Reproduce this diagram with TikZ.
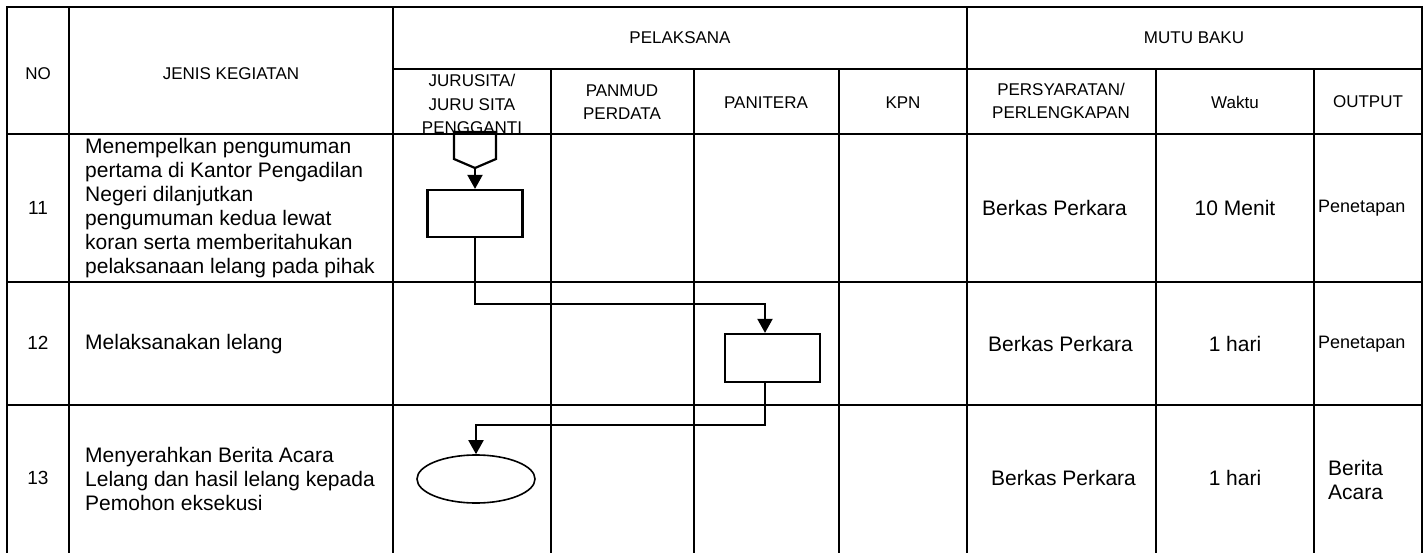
\documentclass[tikz,border=0pt]{standalone}
\usepackage{fontspec}
\setmainfont{Liberation Sans}
\usetikzlibrary{arrows.meta,shapes.geometric}
\begin{document}
\begin{tikzpicture}[x=1pt,y=-1pt,
  grid/.style={line width=1.1pt},
  hdr/.style={font=\fontsize{17}{23.5}\selectfont, align=center, inner sep=0pt},
  body/.style={font=\fontsize{21}{24}\selectfont, align=left, inner sep=0pt},
  num/.style={font=\fontsize{19}{24}\selectfont, inner sep=0pt},
  small/.style={font=\fontsize{18}{24}\selectfont, inner sep=0pt},
  box/.style={draw, line width=2.2pt, minimum width=95pt, minimum height=47pt, inner sep=0pt},
  term/.style={draw, ellipse, line width=1.6pt, minimum width=118pt, minimum height=48pt, inner sep=0pt},
  conn/.style={line width=2pt, -{Triangle[width=15pt,length=14pt]}}]
\useasboundingbox (0,0) rectangle (1426,553);
% grid
\draw[grid] (7,553) -- (7,7) -- (1422,7) -- (1422,553);
\draw[grid] (69,7) -- (69,553);
\draw[grid] (393,7) -- (393,553);
\draw[grid] (967,7) -- (967,553);
\draw[grid] (393,69) -- (1422,69);
\foreach \x in {551,694,839,1156,1314} \draw[grid] (\x,69) -- (\x,553);
\foreach \y in {134,282,405} \draw[grid] (7,\y) -- (1422,\y);
% headers
\node[hdr] (hno) at (38,74) {NO};
\node[hdr] (hjenis) at (231,74) {JENIS KEGIATAN};
\node[hdr] (hpel) at (680,38) {PELAKSANA};
\node[hdr] (hmutu) at (1194,38) {MUTU BAKU};
\node[hdr] (hjs) at (472,104) {JURUSITA/\\JURU SITA\\PENGGANTI};
\node[hdr] (hpan) at (622,102) {PANMUD\\PERDATA};
\node[hdr] (hpant) at (766,103) {PANITERA};
\node[hdr] (hkpn) at (903,103) {KPN};
\node[hdr] (hpers) at (1061,101) {PERSYARATAN/\\PERLENGKAPAN};
\node[hdr] (hwak) at (1235,102) {Waktu};
\node[hdr] (hout) at (1368,102) {OUTPUT};
% row 11
\node[num] (n11) at (38,208) {11};
\node[body, anchor=west] (t11) at (85,208) {Menempelkan pengumuman\\pertama di Kantor Pengadilan\\Negeri dilanjutkan\\pengumuman kedua lewat\\koran serta memberitahukan\\pelaksanaan lelang pada pihak};
\node[body, anchor=west] (b11) at (982,208) {Berkas Perkara};
\node[body] (w11) at (1235,208) {10 Menit};
\node[small, anchor=west] (o11) at (1318,208) {Penetapan};
% row 12
\node[num] (n12) at (38,343) {12};
\node[body, anchor=west] (t12) at (85,344) {Melaksanakan lelang};
\node[body, anchor=west] (b12) at (988,344) {Berkas Perkara};
\node[body] (w12) at (1235,344) {1 hari};
\node[small, anchor=west] (o12) at (1318,344) {Penetapan};
% row 13
\node[num] (n13) at (38,478) {13};
\node[body, anchor=west] (t13) at (85,479) {Menyerahkan Berita Acara\\Lelang dan hasil lelang kepada\\Pemohon eksekusi};
\node[body, anchor=west] (b13) at (991,478) {Berkas Perkara};
\node[body] (w13) at (1235,478) {1 hari};
\node[body, anchor=west] (o13) at (1328,480) {Berita\\Acara};
% flow shapes
\draw[line width=2.2pt, line join=miter] (454,132) -- (454,159) -- (475,168) -- (496,159) -- (496,132) -- cycle;
\coordinate (offtip) at (475,168);
\node[box] (r1) at (475,213.5) {};
\node[box, minimum height=48pt] (r2) at (772.5,358) {};
\node[term] (e) at (476,479) {};
\coordinate (k1) at (765,304);
\coordinate (k2) at (765,425);
% connectors
\draw[conn] (offtip) -- (r1.north);
\draw[conn] (r1.south) |- (k1) -- ([xshift=-7.5pt]r2.north);
\draw[conn] ([xshift=-7.5pt]r2.south) -- (k2) -| (e.north);
\end{tikzpicture}
\end{document}
